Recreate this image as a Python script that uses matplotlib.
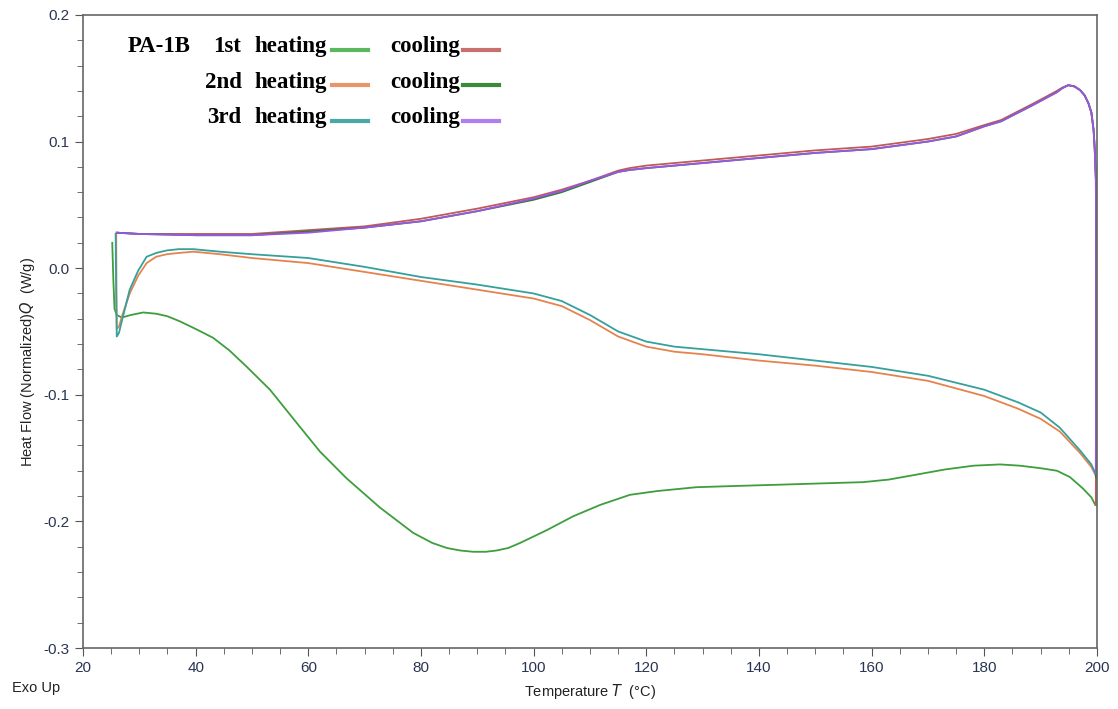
import numpy as np
from matplotlib import pyplot as plt
from matplotlib.ticker import MultipleLocator

# --- datos ---
# 1er calentamiento
t_h1 = [25.2, 25.4, 25.6, 26.0, 26.9, 28.5, 30.7, 33.0, 35.0, 37.2, 40.0, 43.1, 46.0,
        49.1, 53.2, 57.9, 62.1, 66.8, 72.7, 78.6, 82.0, 84.6, 87.0, 89.3, 91.5, 93.4,
        95.5, 97.6, 102.3, 107.0, 111.8, 117.1, 122.0, 128.9, 136.0, 143.7, 151.0,
        158.5, 163.0, 167.4, 173.0, 178.1, 182.8, 186.3, 190.0, 192.9, 195.2, 197.5,
        199.0, 199.7]
q_h1 = [0.020, -0.010, -0.032, -0.037, -0.039, -0.037, -0.035, -0.036, -0.038, -0.042,
        -0.048, -0.055, -0.065, -0.078, -0.096, -0.122, -0.145, -0.166, -0.189, -0.209,
        -0.217, -0.221, -0.223, -0.224, -0.224, -0.223, -0.221, -0.217, -0.207, -0.196,
        -0.187, -0.179, -0.176, -0.173, -0.172, -0.171, -0.170, -0.169, -0.167, -0.1635,
        -0.159, -0.156, -0.155, -0.156, -0.158, -0.160, -0.165, -0.174, -0.181, -0.187]

# 2do calentamiento
t_h2 = [25.9, 25.95, 26.0, 26.4, 27.0, 28.3, 29.8, 31.3, 33.0, 34.9, 37.0, 39.6,
        44.3, 50.0, 60.0, 70.0, 80.0, 90.0, 100.0, 105.0, 110.0, 115.0, 120.0,
        125.0, 130.0, 140.0, 150.0, 160.0, 170.0, 180.0, 186.0, 190.0, 193.4,
        197.0, 199.0, 199.7]
q_h2 = [0.027, -0.020, -0.048, -0.046, -0.037, -0.020, -0.006, 0.004, 0.009, 0.011,
        0.012, 0.013, 0.011, 0.008, 0.004, -0.003, -0.010, -0.017, -0.024, -0.030,
        -0.041, -0.054, -0.062, -0.066, -0.068, -0.073, -0.077, -0.082, -0.089,
        -0.101, -0.111, -0.119, -0.129, -0.146, -0.157, -0.163]

# 3er calentamiento
t_h3 = [25.8, 25.9, 26.0, 26.4, 27.0, 28.3, 29.8, 31.3, 33.0, 34.9, 37.0, 39.6,
        44.3, 50.0, 60.0, 70.0, 80.0, 90.0, 100.0, 105.0, 110.0, 115.0, 120.0,
        125.0, 130.0, 140.0, 150.0, 160.0, 170.0, 180.0, 186.0, 190.0, 193.4,
        197.0, 199.0, 199.7]
q_h3 = [0.027, -0.020, -0.054, -0.051, -0.040, -0.017, -0.002, 0.009, 0.012, 0.014,
        0.015, 0.015, 0.013, 0.011, 0.008, 0.001, -0.007, -0.013, -0.020, -0.026,
        -0.037, -0.050, -0.058, -0.062, -0.064, -0.068, -0.073, -0.078, -0.085,
        -0.096, -0.106, -0.114, -0.126, -0.144, -0.155, -0.162]

# enfriamientos (de 200 hacia 25)
t_c = [199.8, 199.85, 199.8, 199.6, 199.4, 199.0, 198.5, 197.8, 197.0, 196.0, 194.9,
       193.8, 192.9, 190.8, 188.7, 183.0, 180.0, 175.0, 170.0, 165.0, 160.0, 150.0,
       140.0, 130.0, 120.0, 117.0, 115.0, 110.0, 105.0, 100.0, 90.0, 80.0, 70.0, 60.0,
       50.0, 40.0, 30.0, 26.0]
q_c1 = [-0.187, 0.004, 0.070, 0.094, 0.109, 0.123, 0.130, 0.1365, 0.1406, 0.1435, 0.1445,
        0.1425, 0.140, 0.135, 0.130, 0.117, 0.113, 0.106, 0.102, 0.099, 0.096, 0.093,
        0.089, 0.085, 0.081, 0.079, 0.077, 0.069, 0.062, 0.056, 0.047, 0.039, 0.033,
        0.030, 0.027, 0.027, 0.027, 0.028]
q_c2 = [-0.165, 0.004, 0.070, 0.094, 0.109, 0.123, 0.130, 0.1365, 0.1406, 0.1435, 0.1445,
        0.142, 0.139, 0.134, 0.129, 0.116, 0.112, 0.104, 0.100, 0.097, 0.094, 0.091,
        0.087, 0.083, 0.079, 0.0775, 0.076, 0.068, 0.060, 0.054, 0.045, 0.037, 0.032,
        0.029, 0.026, 0.026, 0.027, 0.028]
q_c3 = [-0.162, 0.004, 0.070, 0.094, 0.109, 0.123, 0.130, 0.1365, 0.1406, 0.1435, 0.1445,
        0.142, 0.139, 0.134, 0.129, 0.116, 0.112, 0.104, 0.100, 0.097, 0.094, 0.091,
        0.087, 0.083, 0.079, 0.0775, 0.076, 0.069, 0.061, 0.055, 0.045, 0.037, 0.032,
        0.028, 0.026, 0.026, 0.027, 0.028]

fig = plt.figure(figsize=(11.18, 7.09), dpi=100)
ax = fig.add_axes([0.0742, 0.086, 0.907, 0.893])

ax.plot(t_h1, q_h1, color='#3d9e3d', lw=1.3)
ax.plot(t_h2, q_h2, color='#e5834f', lw=1.3)
ax.plot(t_h3, q_h3, color='#35a09c', lw=1.3)
ax.plot(t_c, q_c1, color='#c05a5a', lw=1.3)
ax.plot(t_c, q_c2, color='#2f7d2f', lw=1.3)
ax.plot(t_c, q_c3, color='#9a55e6', lw=1.3)

ax.set_xlim(20, 200)
ax.set_ylim(-0.3, 0.2)
ax.xaxis.set_major_locator(MultipleLocator(20))
ax.xaxis.set_minor_locator(MultipleLocator(5))
ax.yaxis.set_minor_locator(MultipleLocator(0.02))
ax.set_yticks(np.arange(-0.3, 0.21, 0.1))
ax.set_yticklabels(['-0.3', '-0.2', '-0.1', '0.0', '0.1', '0.2'])

for s in ax.spines.values():
    s.set_color('#666666')
    s.set_linewidth(1.2)
ax.tick_params(which='both', direction='out', color='#555555', top=False, right=False)
ax.tick_params(which='major', length=6, labelsize=11, labelcolor='#2a3552',
               labelfontfamily='Liberation Sans')
ax.tick_params(which='minor', length=4)

fig.text(0.025, 0.49, 'Heat Flow (Normalized)$\\it{Q}$  (W/g)', rotation=90,
         ha='center', va='center', fontsize=10.5, family='Liberation Sans', color='#222222')
fig.text(0.528, 0.025, 'Temperature $\\it{T}$  (°C)', ha='center', va='center',
         fontsize=10.5, family='Liberation Sans', color='#222222')
fig.text(0.011, 0.03, 'Exo Up', ha='left', va='center', fontsize=10.5,
         family='Liberation Sans', color='#222222')

# leyenda manual
filas = ['1st', '2nd', '3rd']
col_cal = ['#5cb85c', '#e8956a', '#4aa8a8']
col_enf = ['#c87070', '#3a8a3a', '#b07ef0']
fuente = dict(family='Liberation Serif', weight='bold', fontsize=16.5, color='black')
ys = [0.934, 0.884, 0.834]
fig.text(0.114, ys[0], 'PA-1B', ha='left', va='center', **fuente)
for i in range(3):
    y = ys[i]
    fig.text(0.216, y, filas[i], ha='right', va='center', **fuente)
    fig.text(0.228, y, 'heating', ha='left', va='center', **fuente)
    fig.add_artist(plt.Line2D([0.297, 0.329], [y - 0.004, y - 0.004], color=col_cal[i], lw=3))
    fig.text(0.349, y, 'cooling', ha='left', va='center', **fuente)
    fig.add_artist(plt.Line2D([0.414, 0.446], [y - 0.004, y - 0.004], color=col_enf[i], lw=3))

fig.savefig('out.png', dpi=100)
